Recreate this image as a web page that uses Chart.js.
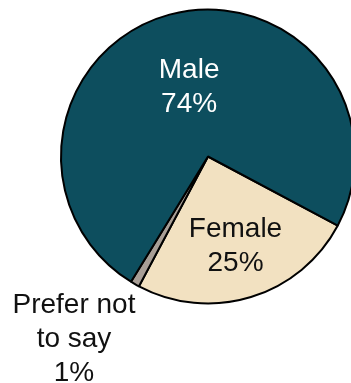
<!DOCTYPE html>
<html lang="en">
<head>
    <meta charset="UTF-8">
    <title>Gender</title>
    <script src="https://cdn.jsdelivr.net/npm/chart.js"></script>
    <style>
        body { margin: 0; overflow: hidden; background: #fff; }
        #pie { display: block; }
    </style>
</head>
<body>
    <canvas id="pie" width="360" height="383"></canvas>
    <script>
  // order is clockwise starting at the male/female boundary
  const labels = ['Female', 'Prefer not to say', 'Male'];
  const values = [25, 1, 74];
  const labelLines = [
    ['Female', '25%'],
    ['Prefer not', 'to say', '1%'],
    ['Male', '74%']
  ];

  const colours = ['#F2E1C1', '#A89E96', '#0D4E5E'];
  const textColours = ['#111111', '#111111', '#FFFFFF'];
  // how far out from the centre each label sits (share of radius), and a small angle nudge
  const labelDist = [0.64, 1.54, 0.49];
  const labelNudge = [0, 6.5, 0];

  const pieLabels = {
    id: 'pieLabels',
    afterDatasetsDraw(chart) {
      const ctx = chart.ctx;
      const arcs = chart.getDatasetMeta(0).data;
      ctx.save();
      ctx.font = '28px "Liberation Sans", Arial, sans-serif';
      ctx.textAlign = 'center';
      ctx.textBaseline = 'middle';
      const lh = 34;
      arcs.forEach((arc, i) => {
        const mid = (arc.startAngle + arc.endAngle) / 2 + labelNudge[i] * Math.PI / 180;
        const r = arc.outerRadius * labelDist[i];
        const cx = arc.x + Math.cos(mid) * r;
        const cy = arc.y + Math.sin(mid) * r;
        const lines = labelLines[i];
        ctx.fillStyle = textColours[i];
        lines.forEach((t, k) => {
          ctx.fillText(t, cx, cy + (k - (lines.length - 1) / 2) * lh);
        });
      });
      ctx.restore();
    }
  };

  const myChart = new Chart(document.getElementById('pie'), {
    type: 'pie',
    data: {
      labels: labels,
      datasets: [{
        data: values,
        backgroundColor: colours,
        borderColor: '#000000',
        borderWidth: 2
      }]
    },
    options: {
      responsive: false,
      animation: false,
      rotation: 118,
      layout: { padding: { left: 60, top: 8, right: 4, bottom: 78 } },
      plugins: {
        legend: { display: false },
        tooltip: { enabled: false }
      }
    },
    plugins: [pieLabels]
  });
    </script>
</body>
</html>
